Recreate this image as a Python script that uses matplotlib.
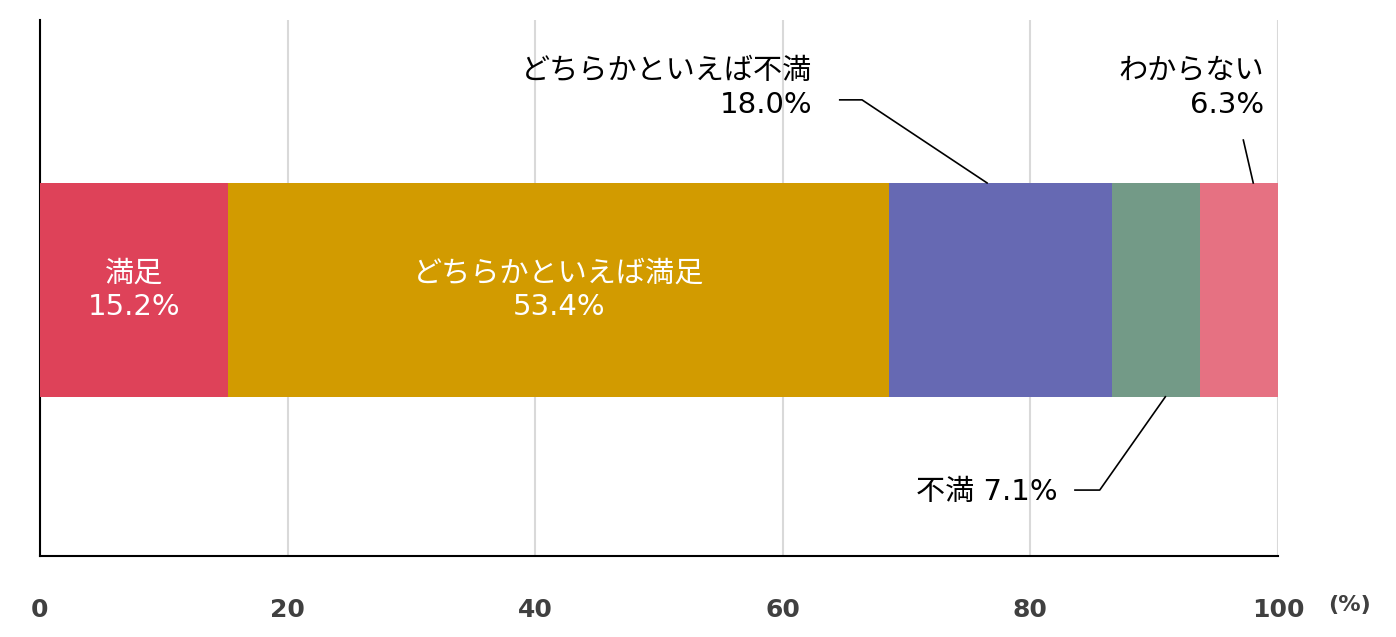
import matplotlib
matplotlib.use("Agg")
import matplotlib.pyplot as plt

categories = ["満足", "どちらかといえば満足", "どちらかといえば不満", "不満", "わからない"]
values = [15.2, 53.4, 18.0, 7.1, 6.3]
colors = ["#DE4259", "#D29B00", "#6669B3", "#739A87", "#E67182"]
ticks = [0, 20, 40, 60, 80, 100]

jp = ["DejaVu Sans", "Noto Sans CJK JP"]
fig = plt.figure(figsize=(13.96, 6.37), dpi=100)
ax = fig.add_axes([40/1396, 1-556/637, 1238/1396, 536/637])
ax.set_xlim(0, 100)
ax.set_ylim(0, 1)
left = 0
lefts = []
for v, c in zip(values, colors):
    ax.barh(0.496, v, left=left, height=0.4, color=c, zorder=3)
    lefts.append(left)
    left += v

for i in range(2):
    ax.text(lefts[i] + values[i]/2, 0.496, f"{categories[i]}\n{values[i]:.1f}%",
            ha="center", va="center", color="white", fontsize=21, fontfamily=jp,
            linespacing=1.25, zorder=4)

tk = dict(fontsize=21, fontfamily=jp, color="black", linespacing=1.25)
ax.text(62.4, 0.873, f"{categories[2]}\n{values[2]:.1f}%", ha="right", va="center", **tk)
ax.plot([64.6, 66.4, 76.5], [0.851, 0.851, 0.696], color="black", lw=1.2, zorder=5)
ax.text(98.9, 0.873, f"{categories[4]}\n{values[4]:.1f}%", ha="right", va="center", **tk)
ax.plot([97.2, 98.0], [0.776, 0.696], color="black", lw=1.2, zorder=5)
ax.text(82.2, 0.12, f"{categories[3]} {values[3]:.1f}%", ha="right", va="center", **tk)
ax.plot([83.6, 85.6, 90.9], [0.123, 0.123, 0.297], color="black", lw=1.2, zorder=5)

ax.set_xticks(ticks)
ax.set_xticklabels([str(t) for t in ticks], fontsize=18, fontweight="bold", color="#404040")
ax.tick_params(axis="x", length=0, pad=30)
ax.set_yticks([])
ax.grid(axis="x", color="#D9D9D9", lw=1.5, zorder=0)
for s in ["top", "right"]:
    ax.spines[s].set_visible(False)
ax.spines["left"].set_linewidth(1.5)
ax.spines["bottom"].set_linewidth(1.5)
fig.text(1350/1396, 1-605/637, "(%)", fontsize=16, fontweight="bold", color="#404040",
         ha="center", va="center")
fig.savefig("out.png", dpi=100)
